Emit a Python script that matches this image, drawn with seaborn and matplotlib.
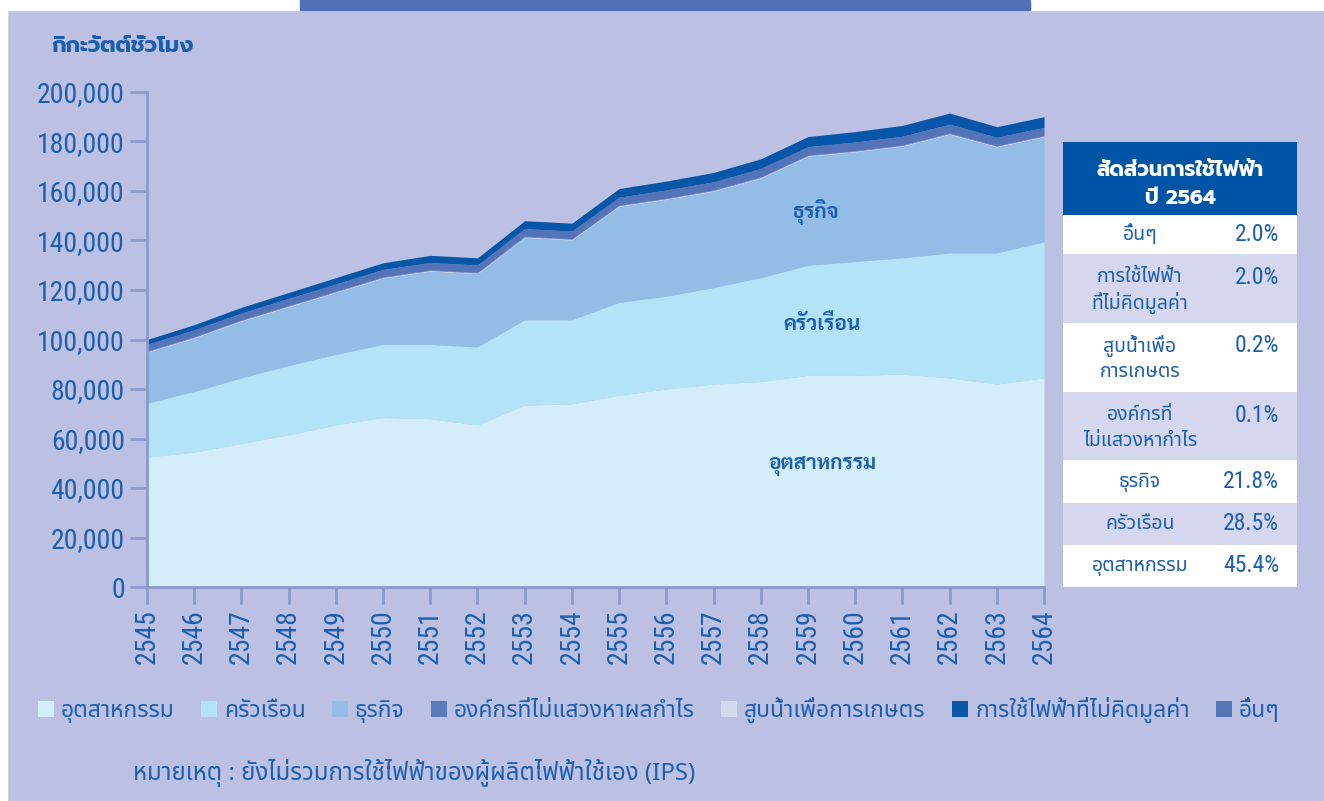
import matplotlib
matplotlib.use("Agg")

import matplotlib.pyplot as plt
import pandas as pd
import seaborn as sns
from matplotlib import font_manager
from matplotlib.patches import Patch, Rectangle

years = list(range(2545, 2565))
industrial = [52.5, 54.5, 58.0, 61.5, 65.5, 68.5, 68.0, 65.5, 73.5, 74.0,
              77.5, 80.0, 82.0, 83.0, 85.5, 85.5, 86.0, 84.5, 82.0, 84.5]
household = [21.8, 24.5, 26.5, 28.0, 28.5, 29.5, 30.0, 31.5, 34.5, 34.0,
             37.5, 37.5, 39.0, 42.0, 44.5, 46.0, 47.0, 50.5, 53.0, 55.0]
business = [20.5, 21.6, 22.9, 23.7, 25.0, 26.8, 29.6, 29.6, 33.2, 32.2,
            38.8, 39.1, 38.9, 40.2, 44.0, 44.3, 45.1, 47.9, 42.8, 42.4]
nonprofit = [0.2] * 20
water = [0.3] * 20
others = [2.7, 2.8, 2.8, 2.9, 2.9, 3.0, 3.0, 3.0, 3.1, 3.1,
          3.2, 3.3, 3.3, 3.4, 3.4, 3.5, 3.5, 3.6, 3.4, 3.3]
free_use = [2.0, 2.1, 2.3, 2.4, 2.6, 2.7, 2.9, 2.9, 3.2, 3.2,
            3.5, 3.6, 3.8, 3.9, 4.1, 4.2, 4.4, 4.5, 4.3, 4.3]

legend_names = ["อุตสาหกรรม", "ครัวเรือน", "ธุรกิจ", "องค์กรที่ไม่แสวงหาผลกำไร",
                "สูบน้ำเพื่อการเกษตร", "การใช้ไฟฟ้าที่ไม่คิดมูลค่า", "อื่นๆ"]
table_rows = [("อื่นๆ",), ("การใช้ไฟฟ้า", "ที่ไม่คิดมูลค่า"), ("สูบน้ำเพื่อ", "การเกษตร"),
              ("องค์กรที่", "ไม่แสวงหากำไร"), ("ธุรกิจ",), ("ครัวเรือน",), ("อุตสาหกรรม",)]
table_values = ["2.0%", "2.0%", "0.2%", "0.1%", "21.8%", "28.5%", "45.4%"]

fonts = font_manager.fontManager.ttflist
installed = {f.name for f in fonts}


def _pick(options, default="DejaVu Sans"):
    for n in options:
        if n in installed:
            return n
    return default


def _pick_bold(options, default="DejaVu Sans"):
    for n in options:
        if any(f.name == n and isinstance(f.weight, int) and f.weight >= 600 for f in fonts):
            return n
    return default


THAI = _pick(["Noto Sans Thai", "Noto Sans Thai UI", "Kanit", "Sarabun"])
THAI_BOLD = _pick_bold(["Noto Sans Thai", "Noto Sans Thai UI", "Prompt", "Kanit", "Mitr"], THAI)
THAI_LOOP = _pick_bold(["Noto Sans Thai Looped", "Sarabun", "Niramit", "Noto Sans Thai"], THAI)
NARROW = _pick(["Roboto Condensed", "Liberation Sans Narrow", "DejaVu Sans Condensed"])

BG = "#bcc1e3"
BLUE = "#1c5fae"
AXC = "#8a9acd"
colors = {"industrial": "#d3eefa", "household": "#b3e3f7", "business": "#93bce6",
          "nonprofit": "#5b7bbf", "water": "#d3d8ee", "free": "#0856a7", "others": "#5474ba"}

sns.set_theme(style="white")
plt.rcParams["font.family"] = [THAI, "DejaVu Sans"]

df = pd.DataFrame({"year": years, "industrial": industrial, "household": household,
                   "business": business, "nonprofit": nonprofit, "water": water,
                   "others": others, "free": free_use})
order = ["industrial", "household", "business", "water", "nonprofit", "others", "free"]

fig = plt.figure(figsize=(13.24, 8.01), dpi=100, facecolor=BG)
# white strip and top banner
fig.patches.append(Rectangle((0, 0.9875), 1, 0.0125, transform=fig.transFigure, color="white", zorder=0))
fig.patches.append(Rectangle((0, 0), 0.0053, 1, transform=fig.transFigure, color="white", zorder=0))
fig.patches.append(Rectangle((300 / 1324, 0.9875), 730 / 1324, 0.0125, transform=fig.transFigure,
                             color="#4f6fb7", zorder=1))

ax = fig.add_axes([147 / 1324, 1 - 587 / 801, 897 / 1324, 495 / 801])
ax.set_facecolor(BG)
pal = sns.color_palette([colors[k] for k in order])
ax.stackplot(df["year"], *[df[k] * 1000 for k in order], colors=pal, linewidth=0)
ax.set_xlim(2545, 2564)
ax.set_ylim(0, 200000)
ax.set_xticks(years)
ax.set_xticklabels([str(y) for y in years], rotation=90, fontsize=20, family=NARROW, color=BLUE)
ax.set_yticks(range(0, 200001, 20000))
ax.set_yticklabels([f"{v:,}" for v in range(0, 200001, 20000)], fontsize=20, family=NARROW, color=BLUE)
ax.tick_params(axis="both", direction="out", length=12, width=2, color=AXC, pad=4, left=True, bottom=True)
sns.despine(ax=ax, top=True, right=True)
for s in ["left", "bottom"]:
    ax.spines[s].set_color(AXC)
    ax.spines[s].set_linewidth(2)

loop_family = [THAI_LOOP, "DejaVu Sans"]
ax.text(2559.15, 151500, "ธุรกิจ", ha="center", va="center", fontsize=15, fontweight="bold",
        color=BLUE, family=loop_family)
ax.text(2559.3, 105900, "ครัวเรือน", ha="center", va="center", fontsize=15, fontweight="bold",
        color=BLUE, family=loop_family)
ax.text(2559.3, 48900, "อุตสาหกรรม", ha="center", va="center", fontsize=15, fontweight="bold",
        color=BLUE, family=loop_family)

bold_family = [THAI_BOLD, "DejaVu Sans"]
fig.text(52 / 1324, 1 - 47 / 801, "กิกะวัตต์ชั่วโมง", ha="left", va="center", fontsize=16,
         fontweight="bold", color=BLUE, family=bold_family)

# share table
tax = fig.add_axes([1063 / 1324, 1 - 587 / 801, 234 / 1324, 445 / 801])
tax.set_xlim(0, 234)
tax.set_ylim(445, 0)
tax.axis("off")
tax.add_patch(Rectangle((0, 0), 234, 73, color="#0054a6", lw=0))
tax.text(117, 28, "สัดส่วนการใช้ไฟฟ้า", ha="center", va="center", fontsize=15, fontweight="bold",
         color="white", family=bold_family)
tax.text(117, 56, "ปี 2564", ha="center", va="center", fontsize=15, fontweight="bold",
         color="white", family=bold_family)
bounds = [73, 112, 181, 250, 318, 361, 403, 445]
for i, (lines, val) in enumerate(zip(table_rows, table_values)):
    y0, y1 = bounds[i], bounds[i + 1]
    tax.add_patch(Rectangle((0, y0), 234, y1 - y0, color="white" if i % 2 == 0 else "#d4d7ee", lw=0))
    if len(lines) == 1:
        ys = [(y0 + y1) / 2]
    else:
        ys = [y0 + 23, y0 + 49]
    for ln, yy in zip(lines, ys):
        tax.text(77, yy, ln, ha="center", va="center", fontsize=14, color=BLUE)
    tax.text(216, ys[0], val, ha="right", va="center", fontsize=17, family=NARROW, color=BLUE)

handles = [Patch(facecolor=colors[k], edgecolor="none") for k in
           ["industrial", "household", "business", "nonprofit", "water", "free", "others"]]
fig.legend(handles, legend_names, loc="center left", bbox_to_anchor=(38 / 1324, 1 - 710 / 801), ncol=7,
           frameon=False, fontsize=16.5, handlelength=0.7, handleheight=0.7, handletextpad=0.3,
           columnspacing=1.15, labelcolor=BLUE, borderpad=0, borderaxespad=0)

fig.text(133 / 1324, 1 - 773 / 801, "หมายเหตุ : ยังไม่รวมการใช้ไฟฟ้าของผู้ผลิตไฟฟ้าใช้เอง (IPS)",
         ha="left", va="center", fontsize=17.3, color=BLUE)

fig.savefig("out.png", dpi=100, facecolor=BG)
